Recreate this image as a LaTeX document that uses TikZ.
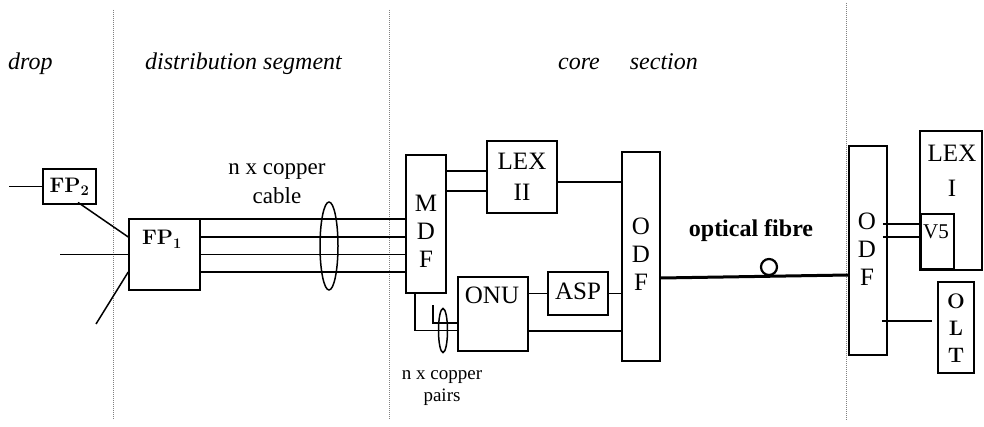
\documentclass[tikz,border=0pt]{standalone}
\usepackage{fontspec}
\newfontfamily\tms{Liberation Serif}
\usetikzlibrary{shapes.geometric,calc}
\begin{document}
\begin{tikzpicture}[x=1pt,y=-1pt,
  thinbox/.style={draw, rectangle, line width=1.5pt, inner sep=0pt},
  thickbox/.style={draw, rectangle, line width=2.8pt, inner sep=0pt},
  wire/.style={line width=1.5pt},
  sep/.style={line width=0.8pt, gray, dash pattern=on 1pt off 1pt},
  hdr/.style={inner sep=0pt, font=\tms\itshape\fontsize{24}{28}\selectfont},
  lbl/.style={inner sep=0pt, align=center, font=\tms\fontsize{25}{28}\selectfont},
  cu/.style={inner sep=0pt, font=\tms\fontsize{23}{28}\selectfont},
  cus/.style={inner sep=0pt, font=\tms\fontsize{19}{22}\selectfont},
  bfl/.style={inner sep=0pt, align=center, font=\bfseries\fontsize{21}{27}\selectfont},
  ring/.style={draw, ellipse, line width=1.5pt, inner sep=0pt}
]
\useasboundingbox (0,0) rectangle (984,427);
% section separators
\draw[sep] (113,10) -- (113,420);
\draw[sep] (389,10) -- (389,420);
\draw[sep] (846,3) -- (846,420);
% headers
\node[hdr, anchor=base west] (hdrop) at (8,70) {drop};
\node[hdr, anchor=base west] (hdist) at (145,70) {distribution segment};
\node[hdr, anchor=base] (hcore) at (628,70) {core\hspace{30pt}section};
% boxes
\node[thickbox, minimum width=53pt, minimum height=35pt] (fp2) at (69.5,186.5) {};
\node[thinbox, minimum width=71pt, minimum height=71pt] (fp1) at (164.5,254.5) {};
\node[thinbox, minimum width=40pt, minimum height=138pt] (mdf) at (426,224) {};
\node[thickbox, minimum width=70pt, minimum height=72pt] (lex2) at (522,177) {};
\node[thinbox, minimum width=38pt, minimum height=209pt] (odfl) at (641,256.5) {};
\node[thickbox, minimum width=70pt, minimum height=74pt] (onu) at (493,314) {};
\node[thickbox, minimum width=60pt, minimum height=43pt] (asp) at (578,293.5) {};
\node[thinbox, minimum width=38pt, minimum height=209pt] (odfr) at (868,250.5) {};
\node[thickbox, minimum width=62pt, minimum height=139pt] (lex1) at (951,200.5) {};
\node[thinbox, minimum width=33pt, minimum height=55pt] (v5) at (937.5,241.5) {};
\node[thickbox, minimum width=36pt, minimum height=91pt] (olt) at (956,327.5) {};
% box texts
\node[bfl] (tfp2) at (69.5,187) {FP\textsubscript{\bfseries 2}};
\node[bfl, anchor=base] (tfp1) at (162,245) {FP\textsubscript{\bfseries 1}};
\node[lbl] (tmdf) at (426,231.5) {M\\D\\F};
\node[lbl, font=\tms\fontsize{25}{31}\selectfont] (tlex2) at (522,177) {LEX\\II};
\node[lbl] (todfl) at (641,254.5) {O\\D\\F};
\node[lbl, anchor=base] (tonu) at (492,304) {ONU};
\node[lbl] (tasp) at (578,291) {ASP};
\node[lbl] (todfr) at (867,249) {O\\D\\F};
\node[lbl, font=\tms\fontsize{25}{35}\selectfont] (tlex1) at (952,170.5) {LEX\\I};
\node[lbl, font=\tms\fontsize{21}{24}\selectfont] (tv5) at (936,232) {V5};
\node[bfl] (tolt) at (956,328.5) {O\\L\\T};
% copper labels
\node[cu, anchor=base] (cu1) at (277,175) {n x copper};
\node[cu, anchor=base] (cu2) at (277,204) {cable};
\node[cus, anchor=base] (cp1) at (442,379) {n x copper};
\node[cus, anchor=base] (cp2) at (442,401) {pairs};
\node[inner sep=0pt, anchor=base, font=\tms\bfseries\fontsize{24}{28}\selectfont] (tfib) at (751,237) {optical fibre};
% drop side
\coordinate (e1) at (9,186.5);
\draw[wire] (e1) -- (fp2.west);
\draw[wire] ($(fp2.south)+(8.5,-3)$) -- ($(fp1.west)+(0,-17.5)$);
\coordinate (e2) at (60,254.5);
\draw[wire] (e2) -- (fp1.west);
\coordinate (e3) at (96,324);
\draw[wire] ($(fp1.west)+(0,17.5)$) -- (e3);
% copper cable
\foreach \d/\n in {-35.5/k1,-17.5/k2,0/k3,17.5/k4} {
  \path ($(fp1.east)+(0,\d)$) coordinate (\n);
  \draw[wire] (\n) -- (\n -| mdf.west);
}
\node[ring, minimum width=18pt, minimum height=88pt] (cab) at (329,246) {};
% MDF to LEX II
\path ($(lex2.west)+(0,-6)$) coordinate (a1);
\path ($(lex2.west)+(0,14)$) coordinate (a2);
\draw[wire] (a1 -| mdf.east) -- (a1);
\draw[wire] (a2 -| mdf.east) -- (a2);
% LEX II to ODF
\path ($(lex2.east)+(0,5)$) coordinate (a3);
\draw[wire] (a3) -- (a3 -| odfl.west);
% ONU, ASP, ODF
\draw[wire] (asp.west -| onu.east) -- (asp.west);
\draw[wire] (asp.east) -- (asp.east -| odfl.west);
\path ($(onu.east)+(0,17)$) coordinate (a4);
\draw[wire] (a4) -- (a4 -| odfl.west);
% MDF to ONU
\path ($(mdf.south)+(-11,0)$) coordinate (a5);
\path ($(onu.west)+(0,16.5)$) coordinate (a6);
\draw[wire] (a5) |- (a6);
\coordinate (lt) at (433,305);
\path ($(onu.west)+(0,9)$) coordinate (a7);
\draw[wire] (lt) |- (a7);
\node[ring, minimum width=9pt, minimum height=44pt] (pr) at (443,330.5) {};
% optical fibre
\draw[line width=3pt] ($(odfl.east)+(0,21.5)$) -- ($(odfr.west)+(0,24.5)$);
\node[draw, circle, line width=2.2pt, minimum size=16pt, inner sep=0pt] (loop) at (769,267) {};
% right side
\path ($(v5.west)+(0,-17.5)$) coordinate (b1);
\path ($(v5.west)+(0,-4.5)$) coordinate (b2);
\draw[wire] ($(b1 -| odfr.east)+(-5,0)$) -- (b1);
\draw[wire] ($(b2 -| odfr.east)+(-5,0)$) -- (b2);
\path ($(olt.west)+(0,-6.5)$) coordinate (b3);
\draw[wire] ($(b3 -| odfr.east)+(-6,0)$) -- ($(b3)+(-5,0)$);
\end{tikzpicture}
\end{document}
